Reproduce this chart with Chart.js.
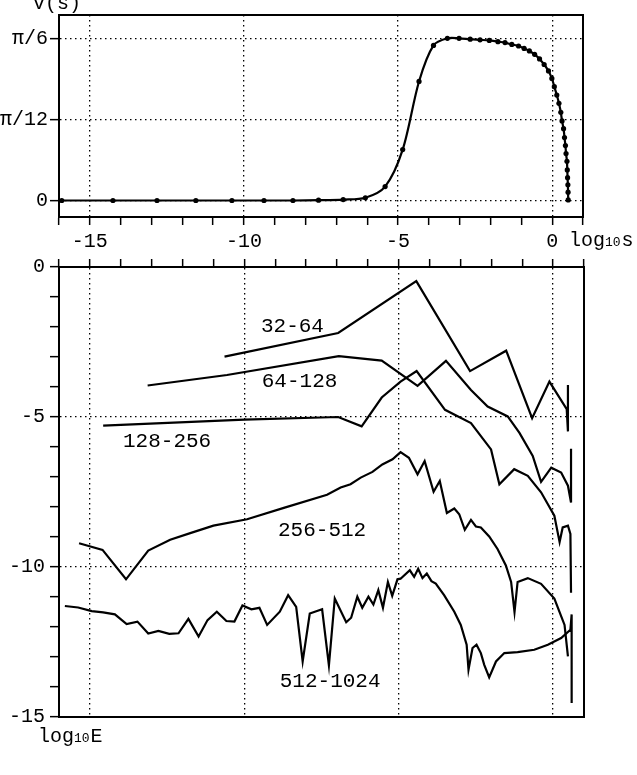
<!DOCTYPE html>
<html>
<head>
<meta charset="utf-8">
<script src="https://cdn.jsdelivr.net/npm/chart.js@4.4.0/dist/chart.umd.min.js"></script>
<style>
  html, body { margin: 0; padding: 0; background: #fff; }
  #wrap { position: relative; width: 637px; height: 775px; }
  canvas { position: absolute; left: 0; }
  #cTop { top: 0; }
  #cBottom { top: 250px; }
</style>
</head>
<body>
<div id="wrap">
  <canvas id="cTop" width="637" height="250"></canvas>
  <canvas id="cBottom" width="637" height="525"></canvas>
</div>
<script>
// ---- top panel: v(s) against log10 s ----
const logS = [-15.91, -14.25, -12.82, -11.56, -10.39, -9.35, -8.41, -7.58, -6.78, -6.06,
  -5.42, -4.85, -4.32, -3.85, -3.40, -3.02, -2.66, -2.34, -2.04, -1.76,
  -1.53, -1.31, -1.09, -0.91, -0.74, -0.57, -0.41, -0.26, -0.12, -0.01,
  0.07, 0.15, 0.22, 0.28, 0.32, 0.37, 0.40, 0.43, 0.45, 0.48,
  0.49, 0.50, 0.51, 0.515, 0.52];
const vS = [0, 0, 0, 0, 0, 0, 0, 0.001, 0.003, 0.009,
  0.045, 0.165, 0.386, 0.503, 0.526, 0.526, 0.523, 0.521, 0.519, 0.515,
  0.512, 0.506, 0.501, 0.493, 0.485, 0.474, 0.459, 0.441, 0.420, 0.396,
  0.369, 0.342, 0.315, 0.286, 0.258, 0.233, 0.204, 0.178, 0.152, 0.127,
  0.099, 0.074, 0.051, 0.027, 0.002];
const vTicks = [0, Math.PI / 12, Math.PI / 6];
const vTickLabels = ['0', 'π/12', 'π/6'];

// ---- bottom panel: log10 E per band, [log10 s, log10 E] ----
const e32 = [[-10.64, -2.99], [-6.96, -2.20], [-4.43, -0.47], [-2.69, -3.47], [-1.52, -2.79],
  [-0.68, -5.04], [-0.12, -3.82], [0.44, -4.74], [0.48, -5.48], [0.48, -3.93]];
const e64 = [[-13.13, -3.95], [-10.56, -3.60], [-6.94, -2.97], [-5.55, -3.12], [-4.39, -3.96],
  [-3.47, -3.13], [-2.66, -4.10], [-2.12, -4.65], [-1.47, -4.98], [-1.09, -5.53],
  [-0.66, -6.30], [-0.39, -7.16], [-0.06, -6.69], [0.26, -6.85], [0.48, -7.29],
  [0.58, -7.85], [0.58, -6.06]];
const e128 = [[-14.57, -5.29], [-10.0, -5.09], [-6.96, -5.00], [-6.20, -5.31], [-5.55, -4.35],
  [-4.94, -3.82], [-4.42, -3.47], [-3.50, -4.76], [-2.66, -5.20], [-2.01, -6.08],
  [-1.74, -7.24], [-1.26, -6.74], [-0.82, -6.96], [-0.39, -7.51], [0.04, -8.29],
  [0.21, -9.17], [0.31, -8.68], [0.48, -8.62], [0.56, -8.90], [0.58, -10.86]];
const e256 = [[-15.35, -9.21], [-14.59, -9.43], [-13.83, -10.41], [-13.11, -9.45], [-12.40, -9.09],
  [-11.75, -8.87], [-11.0, -8.62], [-9.91, -8.41], [-8.72, -8.03], [-7.32, -7.59],
  [-6.88, -7.35], [-6.56, -7.24], [-6.23, -7.02], [-5.85, -6.83], [-5.53, -6.58],
  [-5.20, -6.41], [-4.94, -6.17], [-4.67, -6.36], [-4.39, -6.91], [-4.16, -6.47],
  [-3.87, -7.49], [-3.67, -7.13], [-3.44, -8.20], [-3.20, -8.05], [-3.04, -8.24],
  [-2.86, -8.76], [-2.66, -8.43], [-2.50, -8.65], [-2.34, -8.68], [-2.07, -8.98],
  [-1.80, -9.40], [-1.53, -9.95], [-1.36, -10.50], [-1.25, -11.50], [-1.15, -10.50],
  [-0.82, -10.37], [-0.39, -10.56], [0.04, -11.05], [0.37, -11.93], [0.48, -12.98]];
const e512 = [[-15.81, -11.30], [-15.38, -11.35], [-14.94, -11.47], [-14.57, -11.51], [-14.19, -11.58],
  [-13.81, -11.90], [-13.46, -11.82], [-13.11, -12.22], [-12.78, -12.13], [-12.43, -12.23],
  [-12.13, -12.21], [-11.81, -11.73], [-11.48, -12.32], [-11.19, -11.77], [-10.89, -11.49],
  [-10.58, -11.80], [-10.32, -11.82], [-10.06, -11.28], [-9.77, -11.41], [-9.51, -11.36],
  [-9.26, -11.93], [-8.85, -11.49], [-8.58, -10.94], [-8.32, -11.33], [-8.11, -13.15],
  [-7.88, -11.55], [-7.48, -11.41], [-7.26, -13.28], [-7.07, -11.05], [-6.70, -11.84],
  [-6.54, -11.69], [-6.34, -10.99], [-6.18, -11.36], [-5.98, -10.99], [-5.82, -11.25],
  [-5.66, -10.77], [-5.51, -11.36], [-5.35, -10.50], [-5.21, -10.96], [-5.04, -10.41],
  [-4.94, -10.39], [-4.64, -10.11], [-4.50, -10.33], [-4.37, -10.06], [-4.23, -10.37],
  [-4.09, -10.22], [-3.94, -10.47], [-3.80, -10.55], [-3.53, -10.94], [-3.20, -11.49],
  [-2.99, -11.93], [-2.80, -12.59], [-2.74, -13.42], [-2.61, -12.70], [-2.48, -12.59],
  [-2.34, -12.87], [-2.23, -13.26], [-2.07, -13.68], [-1.85, -13.15], [-1.58, -12.87],
  [-1.15, -12.84], [-0.61, -12.76], [-0.17, -12.59], [0.26, -12.37], [0.56, -12.09],
  [0.60, -11.58], [0.60, -14.53]];

const bandNames = ['32-64', '64-128', '128-256', '256-512', '512-1024'];
const bandLabelX = [-8.44, -8.21, -12.5, -7.48, -7.22];
const bandLabelY = [-1.98, -3.82, -5.81, -8.79, -13.81];

const FONT = "'Liberation Mono', 'Courier New', monospace";
Chart.defaults.font.family = FONT;
Chart.defaults.font.size = 20;
Chart.defaults.color = '#000';

// dotted grid only on the multiples of 5; tick marks on every unit
const every5 = ctx => (ctx.tick && ctx.tick.value % 5 === 0) ? '#000' : 'rgba(0,0,0,0)';

function xScale(position, showLabels, height) {
    return {
        type: 'linear', position: position, min: -16, max: 1,
        afterBuildTicks: s => { s.ticks = []; for (let v = -16; v <= 1; v++) s.ticks.push({ value: v }); },
        afterFit: s => { s.height = height; },
        ticks: {
            autoSkip: false, maxRotation: 0, padding: 5,
            display: showLabels,
            callback: v => (v % 5 === 0 ? String(v) : '')
        },
        grid: { color: every5, lineWidth: 1.3, tickColor: '#000', tickLength: 8, tickWidth: 1.5 },
        border: { color: '#000', width: 2, dash: [1.5, 3.5] }
    };
}

const boxPlugin = {
    id: 'box',
    afterDraw(chart) {
        const { ctx, chartArea: a } = chart;
        ctx.save();
        ctx.strokeStyle = '#000';
        ctx.lineWidth = 2;
        ctx.strokeRect(a.left, a.top, a.right - a.left, a.bottom - a.top);
        ctx.restore();
    }
};

// "log10x" with small 10
function drawLog(ctx, x, baseline, tail) {
    ctx.save();
    ctx.fillStyle = '#000';
    ctx.textBaseline = 'alphabetic';
    ctx.textAlign = 'left';
    ctx.font = '20px ' + FONT;
    ctx.fillText('log', x, baseline);
    x += ctx.measureText('log').width;
    ctx.font = '13px ' + FONT;
    ctx.fillText('10', x, baseline);
    x += ctx.measureText('10').width + 1;
    ctx.font = '20px ' + FONT;
    ctx.fillText(tail, x, baseline);
    ctx.restore();
}

const topTexts = {
    id: 'topTexts',
    afterDraw(chart) {
        const ctx = chart.ctx;
        ctx.save();
        ctx.font = '20px ' + FONT;
        ctx.fillStyle = '#000';
        ctx.textBaseline = 'middle';
        ctx.fillText('v(s)', 33, 4);
        ctx.restore();
        drawLog(ctx, 569, 246, 's');
    }
};

const bottomTexts = {
    id: 'bottomTexts',
    afterDraw(chart) {
        const { ctx, scales } = chart;
        ctx.save();
        ctx.font = '21px ' + FONT;
        ctx.fillStyle = '#000';
        ctx.textAlign = 'center';
        ctx.textBaseline = 'middle';
        bandNames.forEach((name, i) => {
            ctx.fillText(name, scales.x.getPixelForValue(bandLabelX[i]), scales.y.getPixelForValue(bandLabelY[i]));
        });
        ctx.restore();
        drawLog(ctx, 38, 492, 'E');
    }
};

new Chart(document.getElementById('cTop'), {
    type: 'line',
    data: {
        datasets: [{
            data: logS.map((x, i) => ({ x: x, y: vS[i] })),
            borderColor: '#000', borderWidth: 2.2,
            pointRadius: 2.6, pointBackgroundColor: '#000', pointBorderWidth: 0,
            tension: 0.3
        }]
    },
    options: {
        responsive: false, animation: false, devicePixelRatio: 1,
        layout: { padding: { left: 0, right: 54, top: 15, bottom: 0 } },
        plugins: { legend: { display: false }, tooltip: { enabled: false } },
        scales: {
            x: xScale('bottom', true, 33),
            y: {
                type: 'linear', min: -0.0535, max: 0.6015,
                afterBuildTicks: s => { s.ticks = vTicks.map(v => ({ value: v })); },
                afterFit: s => { s.width = 59; },
                ticks: { padding: 2, callback: (v, i) => vTickLabels[i] },
                grid: { color: '#000', lineWidth: 1.3, tickColor: '#000', tickLength: 9, tickWidth: 1.5 },
                border: { color: '#000', width: 2, dash: [1.5, 3.5] }
            }
        }
    },
    plugins: [boxPlugin, topTexts]
});

const lineSet = pts => ({
    data: pts.map(p => ({ x: p[0], y: p[1] })),
    borderColor: '#000', borderWidth: 2.2, pointRadius: 0, tension: 0
});

new Chart(document.getElementById('cBottom'), {
    type: 'line',
    data: { datasets: [lineSet(e32), lineSet(e64), lineSet(e128), lineSet(e256), lineSet(e512)] },
    options: {
        responsive: false, animation: false, devicePixelRatio: 1,
        layout: { padding: { left: 0, right: 53, top: 0, bottom: 58 } },
        plugins: { legend: { display: false }, tooltip: { enabled: false } },
        scales: {
            x: xScale('top', false, 13),
            y: {
                type: 'linear', min: -15, max: 0,
                afterBuildTicks: s => { s.ticks = []; for (let v = -15; v <= 0; v++) s.ticks.push({ value: v }); },
                afterFit: s => { s.width = 59; },
                ticks: { padding: 5, autoSkip: false, callback: v => (v % 5 === 0 ? String(v) : '') },
                grid: { color: every5, lineWidth: 1.3, tickColor: '#000', tickLength: 9, tickWidth: 1.5 },
                border: { color: '#000', width: 2, dash: [1.5, 3.5] }
            }
        }
    },
    plugins: [boxPlugin, bottomTexts]
});
</script>
</body>
</html>
